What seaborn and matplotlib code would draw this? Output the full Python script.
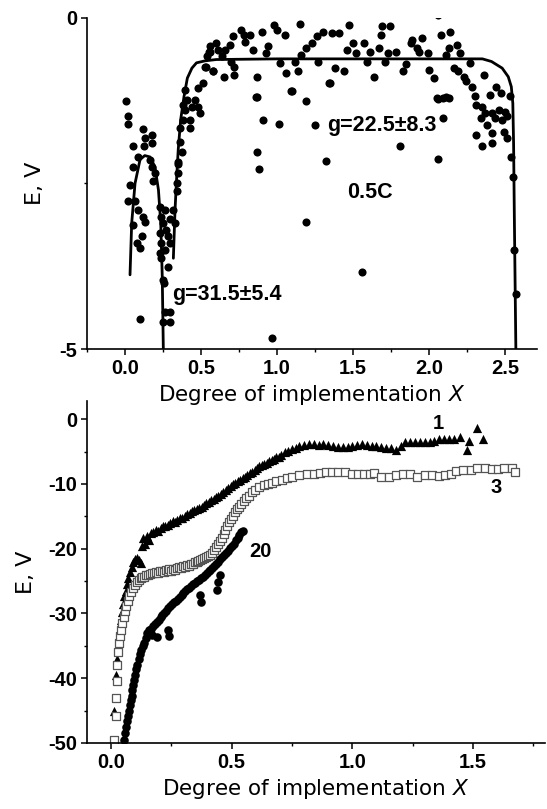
import numpy as np
import pandas as pd
import matplotlib
matplotlib.use("Agg")
import matplotlib.pyplot as plt
from matplotlib.ticker import MultipleLocator, FixedLocator
import seaborn as sns

# ---------------- data: top panel (0.5C) ----------------
top_x = [0.007, 0.022, 0.022, 0.12, 0.175, 0.13, 0.175, 0.055, 0.125, 0.088, 0.165, 0.055, 0.175,
         0.197, 0.186, 0.033, 0.022, 0.066, 0.088, 0.12, 0.055, 0.13, 0.11, 0.077, 0.099, 0.23,
         0.263, 0.318, 0.24, 0.296, 0.25, 0.33, 0.27, 0.23, 0.285, 0.24, 0.263, 0.23, 0.24, 0.296,
         0.285, 0.25, 0.099, 0.263, 0.25, 0.296, 0.296, 0.257,
         0.35, 0.35, 0.34, 0.34, 0.36, 0.395, 0.43, 0.43, 0.384, 0.405, 0.46, 0.48, 0.49, 0.44,
         0.395, 0.48, 0.515, 0.526, 0.58, 0.54, 0.56, 0.60, 0.55, 0.36, 0.373, 0.347, 0.38,
         0.56, 0.61, 0.66, 0.69, 0.71, 0.76, 0.78, 0.82, 0.79, 0.84, 0.90, 0.94, 0.93, 0.98, 1.00,
         1.05, 1.15, 1.02, 1.06, 1.12, 1.14, 1.16, 1.19, 1.23, 1.26, 1.30, 1.27, 1.36, 1.41, 1.47,
         1.46, 1.50, 1.57, 1.52, 1.38, 1.44, 1.35, 0.58, 0.65, 0.53, 0.72, 0.72, 0.70, 0.87, 0.87,
         1.09, 1.19, 0.91, 1.01, 1.25, 0.64,
         1.69, 1.74, 1.68, 1.89, 1.95, 1.88, 1.92, 1.93, 2.08, 2.14, 2.18, 2.13, 2.20, 2.11, 1.67,
         1.73, 1.78, 1.61, 1.59, 1.71, 1.99, 1.85, 1.83, 2.00, 2.03, 1.64, 2.16, 2.19, 2.23, 2.24,
         2.27, 2.28, 2.36, 2.30, 2.06, 2.11, 2.31, 2.35, 2.40, 2.44, 2.47, 2.53, 2.37, 2.41, 2.46,
         2.50, 2.43, 2.34, 2.48, 2.51, 2.09, 2.38, 2.41, 2.49, 2.31, 2.35, 2.41, 2.51, 1.81,
         1.32, 2.06, 1.19, 1.56, 2.54, 2.55, 2.56, 2.57, 0.965, 1.34, 1.10, 2.05, 2.09, 2.13,
         0.87, 0.88, 0.86, 2.06]
top_y = [-1.25, -1.48, -1.60, -1.68, -1.77, -1.82, -1.89, -1.93, -1.94, -2.10, -2.14, -2.25, -2.25,
         -2.35, -2.47, -2.52, -2.77, -2.77, -2.90, -3.00, -3.13, -3.08, -3.30, -3.40, -3.48, -2.85,
         -2.90, -2.90, -3.00, -3.03, -3.10, -3.10, -3.20, -3.25, -3.30, -3.40, -3.50, -3.55, -3.63,
         -3.40, -3.76, -3.96, -4.54, -4.44, -4.59, -4.44, -4.59, -4.00,
         -2.20, -2.35, -2.50, -2.62, -1.67, -1.39, -1.54, -1.67, -1.31, -1.24, -1.24, -1.34, -1.44,
         -1.34, -1.09, -1.06, -0.99, -0.74, -0.81, -0.58, -0.43, -0.38, -0.51, -1.87, -2.02, -2.18,
         -1.54,
         -0.51, -0.48, -0.48, -0.41, -0.28, -0.18, -0.26, -0.26, -0.36, -0.48, -0.22, -0.43, -0.53,
         -0.11, -0.18, -0.26, -0.09, -0.68, -0.84, -0.66, -0.81, -0.56, -0.46, -0.38, -0.28, -0.21,
         -0.66, -0.23, -0.23, -0.11, -0.48, -0.38, -0.38, -0.53, -0.76, -0.81, -0.99, -0.81, -0.89,
         -0.74, -0.74, -0.86, -0.66, -0.89, -1.19, -1.11, -1.26, -1.54, -1.60, -1.62, -0.58,
         -0.13, -0.13, -0.26, -0.33, -0.31, -0.38, -0.46, -0.51, -0.26, -0.22, -0.41, -0.46, -0.53,
         -0.56, -0.46, -0.53, -0.51, -0.51, -0.66, -0.66, -0.53, -0.69, -0.81, -0.79, -0.91, -0.89,
         -0.76, -0.81, -0.89, -0.96, -0.68, -1.04, -0.86, -1.18, -1.23, -1.20, -1.31, -1.34, -1.16,
         -1.04, -1.14, -1.18, -1.44, -1.44, -1.39, -1.42, -1.52, -1.52, -1.54, -1.49, -1.52, -1.62,
         -1.74, -1.72, -1.77, -1.93, -1.89, -1.82, -1.94,
         -2.16, -2.13, -3.09, -3.84, -2.10, -2.41, -3.51, -4.17, -4.84, -0.99, -1.11, -1.21, -1.21,
         -1.21, -2.02, -2.28, -1.19, 0.04]

# fitted curves
fitA_x = [0.033, 0.044, 0.066, 0.099, 0.13, 0.164, 0.197, 0.22, 0.235, 0.245, 0.252]
fitA_y = [-3.88, -3.10, -2.50, -2.14, -2.08, -2.10, -2.25, -2.60, -3.10, -3.91, -5.00]
fitB_x = [0.318, 0.329, 0.34, 0.35, 0.366, 0.388, 0.41, 0.44, 0.47, 0.526, 0.60, 1.0, 1.5,
          2.0, 2.35, 2.41, 2.48, 2.52, 2.54, 2.55, 2.555, 2.56, 2.565, 2.57]
fitB_y = [-3.63, -2.90, -2.40, -1.99, -1.54, -1.19, -0.91, -0.76, -0.68, -0.65, -0.63, -0.62,
          -0.62, -0.62, -0.62, -0.66, -0.76, -0.89, -1.04, -1.29, -1.89, -3.00, -4.00, -5.00]

# ---------------- data: bottom panel ----------------
tri_x = [0.012, 0.013, 0.02, 0.025, 0.03, 0.035, 0.04, 0.045, 0.05, 0.055, 0.06, 0.065, 0.07,
         0.078, 0.085, 0.092, 0.10, 0.108, 0.115, 0.122,
         0.128, 0.133, 0.14, 0.148, 0.158, 0.165, 0.175, 0.185, 0.195, 0.205, 0.215, 0.225,
         0.235, 0.245, 0.255, 0.265, 0.275, 0.285, 0.295, 0.305, 0.315, 0.325, 0.335, 0.345,
         0.355, 0.365, 0.375, 0.385, 0.395, 0.405, 0.415, 0.425, 0.435, 0.445, 0.455, 0.465,
         0.475, 0.485, 0.495, 0.505, 0.515, 0.525, 0.535, 0.545, 0.555, 0.565, 0.575, 0.585,
         0.595, 0.605, 0.615, 0.625, 0.635, 0.645, 0.655, 0.665, 0.675, 0.685, 0.695, 0.705,
         0.72, 0.735, 0.75, 0.765, 0.78, 0.80, 0.82, 0.84, 0.86, 0.88, 0.90, 0.92, 0.94, 0.96,
         0.98, 1.00, 1.02, 1.04, 1.06, 1.08, 1.10, 1.12, 1.14, 1.16, 1.18, 1.20, 1.22, 1.24,
         1.26, 1.28, 1.30, 1.32, 1.34, 1.36, 1.38, 1.40, 1.42, 1.445, 1.475, 1.485, 1.515, 1.54]
tri_y = [-49.5, -45.0, -39.5, -37.0, -35.0, -32.5, -31.0, -29.8, -28.5, -27.3, -26.5, -25.5,
         -24.5, -23.6, -22.8, -22.0, -21.6, -21.4, -21.8, -22.2,
         -19.6, -18.4, -19.2, -18.0, -18.6, -17.6, -17.5, -17.1, -17.3, -16.8, -16.5, -16.5,
         -16.3, -16.1, -15.8, -15.9, -15.6, -15.3, -15.2, -14.9, -14.7, -14.5, -14.2, -14.1,
         -13.9, -13.7, -13.5, -13.2, -13.0, -12.8, -12.5, -12.3, -12.0, -11.8, -11.5, -11.2,
         -10.9, -10.6, -10.3, -10.0, -9.8, -9.6, -9.4, -9.1, -8.9, -8.6, -8.3, -8.1, -7.8,
         -7.5, -7.3, -7.1, -6.9, -6.7, -6.5, -6.3, -6.1, -5.9, -5.8, -5.5,
         -5.1, -4.9, -4.6, -4.4, -4.2, -4.0, -3.9, -3.9, -4.0, -3.9, -4.0, -4.2, -4.3, -4.3,
         -4.3, -4.1, -4.0, -3.8, -4.0, -4.2, -4.2, -4.3, -4.4, -4.5, -4.8, -4.1, -3.5, -3.5,
         -3.5, -3.5, -3.5, -3.5, -3.3, -3.0, -3.0, -3.0, -3.0, -2.7, -4.8, -3.4, -1.4, -3.0]

sq_x = [0.012, 0.019, 0.019, 0.023, 0.026, 0.029, 0.033, 0.037, 0.042, 0.047, 0.052, 0.058,
        0.063, 0.068, 0.075, 0.082, 0.09, 0.098, 0.106, 0.114, 0.122, 0.13, 0.138, 0.146, 0.154,
        0.162, 0.17, 0.178, 0.186, 0.194, 0.202, 0.21, 0.218, 0.226, 0.234, 0.242, 0.25, 0.258,
        0.266, 0.274, 0.282, 0.29, 0.298, 0.306, 0.314, 0.322, 0.33, 0.338, 0.346, 0.354, 0.362,
        0.37, 0.378, 0.386, 0.394, 0.402, 0.41, 0.418, 0.426, 0.434, 0.442, 0.45, 0.458, 0.466,
        0.474, 0.482, 0.49, 0.498, 0.506, 0.514, 0.522, 0.53, 0.54, 0.55, 0.56, 0.57, 0.584,
        0.598, 0.613, 0.632, 0.65, 0.667, 0.685, 0.708, 0.73, 0.75, 0.78, 0.81, 0.84, 0.865,
        0.89, 0.915, 0.94, 0.97, 1.0, 1.025, 1.05, 1.075, 1.09, 1.12, 1.15, 1.18, 1.21, 1.24,
        1.27, 1.30, 1.33, 1.36, 1.385, 1.41, 1.43, 1.46, 1.49, 1.515, 1.55, 1.58, 1.605, 1.63,
        1.66, 1.675]
sq_y = [-49.5, -45.8, -43.1, -40.5, -38.0, -35.9, -34.6, -33.5, -32.5, -31.5, -30.5, -29.6,
        -28.8, -28.0, -27.3, -26.7, -26.1, -25.6, -25.2, -24.9, -24.6, -24.4, -24.3, -24.1, -24.0,
        -23.9, -23.8, -23.8, -23.6, -23.7, -23.5, -23.4, -23.6, -23.3, -23.5, -23.2, -23.4, -23.1,
        -23.3, -23.0, -22.9, -23.0, -22.7, -22.8, -22.5, -22.6, -22.3, -22.4, -22.1, -22.0, -21.9,
        -21.8, -21.6, -21.5, -21.3, -21.2, -20.9, -20.6, -20.2, -19.8, -19.3, -18.8, -18.3, -17.7,
        -17.1, -16.5, -15.9, -15.4, -14.9, -14.4, -13.9, -13.5, -13.1, -12.6, -12.2, -11.8, -11.3,
        -10.9, -10.5, -10.2, -10.0, -9.9, -9.6, -9.4, -9.1, -8.9, -8.6, -8.4, -8.4, -8.3,
        -8.2, -8.1, -8.1, -8.1, -8.5, -8.5, -8.5, -8.5, -8.3, -8.9, -8.9, -8.6, -8.5, -8.4,
        -8.9, -8.6, -8.6, -8.7, -8.6, -8.4, -8.0, -7.9, -7.9, -7.5, -7.6, -7.7, -7.7, -7.5,
        -7.6, -8.2]

circ_x = [0.054, 0.058, 0.062, 0.066, 0.07, 0.074, 0.078, 0.081, 0.085, 0.088, 0.09, 0.095, 0.1,
          0.104, 0.109, 0.114, 0.12, 0.126, 0.132, 0.138, 0.145, 0.15, 0.157, 0.165, 0.172, 0.18,
          0.19, 0.198, 0.205, 0.212, 0.22, 0.228, 0.236, 0.244, 0.252, 0.26, 0.268, 0.276, 0.284,
          0.292, 0.3, 0.308, 0.316, 0.324, 0.332, 0.34, 0.348, 0.356, 0.364, 0.372, 0.38, 0.388,
          0.396, 0.404, 0.412, 0.42, 0.428, 0.436, 0.444, 0.452, 0.46, 0.468, 0.476, 0.484, 0.492,
          0.5, 0.508, 0.516, 0.524, 0.532, 0.54, 0.548,
          0.17, 0.19, 0.237, 0.24, 0.37, 0.372, 0.44, 0.445, 0.45]
circ_y = [-49.5, -48.5, -47.6, -46.6, -45.8, -45.0, -44.2, -43.3, -42.7, -41.8, -41.0, -40.3,
          -39.5, -38.6, -37.9, -37.0, -36.3, -35.6, -35.0, -34.5, -33.8, -33.0, -32.6, -32.4,
          -32.0, -31.6, -31.3, -31.0, -30.6, -30.2, -29.9, -29.6, -29.2, -28.9, -28.6, -28.3,
          -28.0, -27.7, -27.4, -27.1, -26.8, -26.5, -26.3, -26.0, -25.8, -25.5, -25.3, -25.0,
          -24.8, -24.5, -24.3, -24.0, -23.7, -23.5, -23.3, -23.0, -22.7, -22.4, -22.0, -21.6,
          -21.3, -21.0, -20.6, -20.3, -19.9, -19.6, -19.2, -18.7, -18.3, -17.9, -17.5, -17.2,
          -33.3, -33.6, -32.5, -33.5, -27.2, -28.3, -26.4, -25.2, -24.0]

top_xticks = [0.0, 0.5, 1.0, 1.5, 2.0, 2.5]
top_yticks = [0, -5]
bot_xticks = [0.0, 0.5, 1.0, 1.5]
bot_yticks = [0, -10, -20, -30, -40, -50]
xlabel_text = "Degree of implementation $\\it{X}$"
ylabel_text = "E, V"

# ---------------- styling ----------------
sns.set_theme(style="ticks")
plt.rcParams["font.family"] = ["DejaVu Sans"]
for key in ("text.color", "axes.labelcolor", "xtick.color", "ytick.color", "axes.edgecolor"):
    plt.rcParams[key] = "black"
tick_font = dict(family="Liberation Sans", weight="bold", size=14.5)
ann_font = dict(family="Liberation Sans", fontweight="bold", color="black")

fig = plt.figure(figsize=(5.47, 8.09), dpi=100)
ax1 = fig.add_axes([0.159, 0.5686, 0.823, 0.4094])
ax2 = fig.add_axes([0.159, 0.0816, 0.838, 0.4227])
ax2.patch.set_alpha(0)

# top panel
sns.scatterplot(x=top_x, y=top_y, ax=ax1, color="black", s=34, linewidth=0)
sns.lineplot(x=fitA_x, y=fitA_y, ax=ax1, color="black", lw=2.0, sort=False, estimator=None)
sns.lineplot(x=fitB_x, y=fitB_y, ax=ax1, color="black", lw=2.0, sort=False, estimator=None)
ax1.set_xlim(-0.25, 2.71)
ax1.set_ylim(-5, 0)
ax1.xaxis.set_major_locator(FixedLocator(top_xticks))
ax1.xaxis.set_minor_locator(MultipleLocator(0.25))
ax1.yaxis.set_major_locator(FixedLocator(top_yticks))
ax1.yaxis.set_minor_locator(FixedLocator([-2.5]))
ax1.set_xticklabels([f"{v:.1f}" for v in top_xticks], **tick_font)
ax1.set_yticklabels([f"{v:d}" for v in top_yticks], **tick_font)
ax1.text(1.33, -1.62, "g=22.5±8.3", fontsize=15.5, va="center", ha="left", **ann_font)
ax1.text(1.61, -2.64, "0.5C", fontsize=15.5, va="center", ha="center", **ann_font)
ax1.text(0.31, -4.18, "g=31.5±5.4", fontsize=15.5, va="center", ha="left", **ann_font)

# bottom panel
sns.scatterplot(x=tri_x, y=tri_y, ax=ax2, color="black", marker="^", s=44, linewidth=0)
sns.scatterplot(x=sq_x, y=sq_y, ax=ax2, marker="s", s=26, facecolor="white",
                edgecolor="#555555", linewidth=0.9)
sns.scatterplot(x=circ_x, y=circ_y, ax=ax2, color="black", marker="o", s=38, linewidth=0)
ax2.set_xlim(-0.1, 1.8)
ax2.set_ylim(-50, 2.8)
ax2.xaxis.set_major_locator(FixedLocator(bot_xticks))
ax2.xaxis.set_minor_locator(MultipleLocator(0.25))
ax2.yaxis.set_major_locator(FixedLocator(bot_yticks))
ax2.yaxis.set_minor_locator(MultipleLocator(5))
ax2.set_xticklabels([f"{v:.1f}" for v in bot_xticks], **tick_font)
ax2.set_yticklabels([f"{v:d}" for v in bot_yticks], **tick_font)
ax2.text(1.355, -0.6, "1", fontsize=14.5, va="center", ha="center", **ann_font)
ax2.text(1.594, -10.5, "3", fontsize=14.5, va="center", ha="center", **ann_font)
ax2.text(0.62, -20.5, "20", fontsize=14.5, va="center", ha="center", **ann_font)

for ax in (ax1, ax2):
    sns.despine(ax=ax)
    for sp in ("left", "bottom"):
        ax.spines[sp].set_linewidth(1.2)
        ax.spines[sp].set_color("black")
    ax.tick_params(which="major", length=4, width=1.1, color="black", pad=3)
    ax.tick_params(which="minor", length=2.5, width=1.0, color="black")
    ax.set_xlabel(xlabel_text, fontsize=15.5, labelpad=4, color="black")
    ax.grid(False)
ax1.set_ylabel(ylabel_text, fontsize=16, labelpad=10, color="black")
ax2.set_ylabel(ylabel_text, fontsize=16, labelpad=9, color="black")

fig.savefig("out.png", dpi=100, facecolor="white")
